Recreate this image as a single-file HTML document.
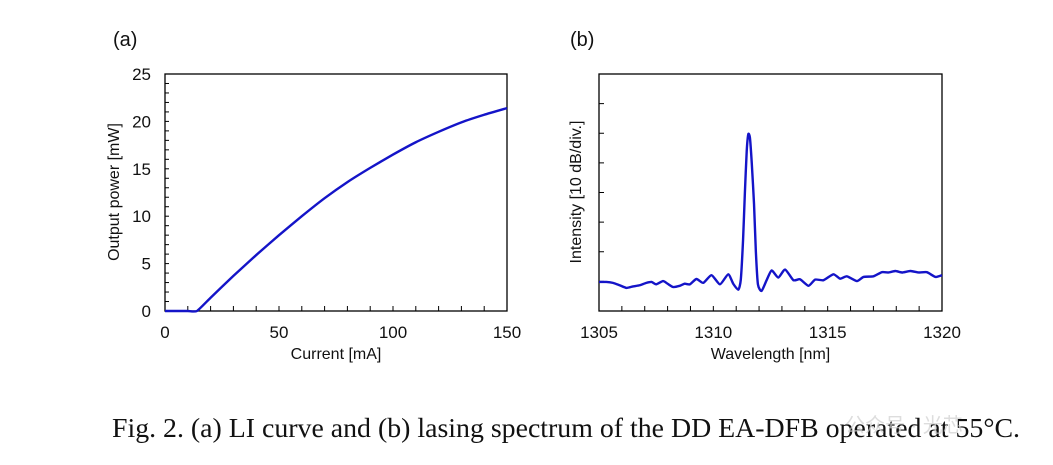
<!DOCTYPE html>
<html><head><meta charset="utf-8"><style>
html,body{margin:0;padding:0;background:#fff;width:1053px;height:465px;overflow:hidden}
svg text{font-family:"Liberation Sans",Arial,sans-serif;fill:#111}
</style></head><body>
<svg id="fig" width="1053" height="465" xmlns="http://www.w3.org/2000/svg">
<g id="pa"></g>
<g id="pb"></g>
<text x="112" y="437" font-size="27" textLength="908" lengthAdjust="spacingAndGlyphs" style="font-family:'Liberation Serif','Times New Roman',serif">Fig. 2. (a) LI curve and (b) lasing spectrum of the DD EA-DFB operated at 55°C.</text>
<text x="845" y="432" font-size="20" style="fill:#d0d0d0;font-family:'Liberation Sans','Noto Sans CJK SC',sans-serif" opacity="0.7">公众号 · 光芯</text>
</svg>
<script>
const liCurrent=[0,5,10,14,20,30,40,50,60,70,80,90,100,110,120,130,140,150];
const liPower=[0,0,0,0,1.4,3.7,5.9,8.0,10.0,11.9,13.6,15.1,16.5,17.8,18.9,19.9,20.7,21.4];
const liXTicks=[0,50,100,150];
const liYTicks=[0,5,10,15,20,25];
const spWave=[1305,1305.32,1305.61,1305.9,1306.2,1306.49,1306.78,1307.07,1307.3,1307.5,1307.8,1308.0,1308.24,1308.53,1308.75,1308.97,1309.26,1309.56,1309.92,1310.29,1310.65,1310.87,1311.09,1311.2,1311.3,1311.38,1311.46,1311.53,1311.6,1311.68,1311.78,1311.86,1311.95,1312.11,1312.33,1312.55,1312.84,1313.14,1313.5,1313.79,1314.16,1314.45,1314.82,1315.25,1315.55,1315.84,1316.28,1316.57,1317.0,1317.37,1317.66,1317.96,1318.25,1318.62,1318.98,1319.34,1319.71,1320];
const spInt=[9.8,9.8,9.5,8.7,7.8,8.3,8.7,9.5,9.8,9.0,10.1,9.2,8.1,8.5,9.2,9.0,10.8,9.5,12.1,9.0,12.4,9.2,7.2,10.5,24,40,54,59.7,58.5,50,36,20,9,6.8,10.4,13.7,11.3,14.0,10.4,10.7,8.5,10.6,10.4,12.4,10.9,11.7,10.1,11.5,11.7,13.1,13.0,13.5,13.0,13.5,13.0,13.1,11.5,12.1];
const spXTicks=[1305,1310,1315,1320];

const NS="http://www.w3.org/2000/svg";
function mk(p,t,a,txt){const e=document.createElementNS(NS,t);for(const k in a)e.setAttribute(k,a[k]);if(txt!==undefined)e.textContent=txt;p.appendChild(e);return e;}
function smooth(pts,t){t=t||6;let d="M"+pts[0][0]+","+pts[0][1];for(let i=0;i<pts.length-1;i++){const p0=pts[Math.max(0,i-1)],p1=pts[i],p2=pts[i+1],p3=pts[Math.min(pts.length-1,i+2)];const c1=[p1[0]+(p2[0]-p0[0])/t,p1[1]+(p2[1]-p0[1])/t],c2=[p2[0]-(p3[0]-p1[0])/t,p2[1]-(p3[1]-p1[1])/t];d+=" C"+c1[0]+","+c1[1]+" "+c2[0]+","+c2[1]+" "+p2[0]+","+p2[1];}return d;}

// Panel a
const A=document.getElementById('pa');
const aL=165,aR=507,aT=74,aB=311;
const ax=v=>aL+(v-0)/150*(aR-aL), ay=v=>aB-(v/25)*(aB-aT);
let e=mk(A,'rect',{x:aL,y:aT,width:aR-aL,height:aB-aT,fill:'none',stroke:'#000','stroke-width':1.3});

for(let v=10;v<150;v+=10){e=mk(A,'line',{x1:ax(v),x2:ax(v),y1:aB,y2:aB-5,stroke:'#000'});}
for(let v=1;v<25;v++){e=mk(A,'line',{x1:aL,x2:aL+4,y1:ay(v),y2:ay(v),stroke:'#000'});}
liXTicks.forEach(v=>{e=mk(A,'text',{x:ax(v),y:aB+27,'font-size':17,'text-anchor':'middle'},String(v));});
liYTicks.forEach(v=>{e=mk(A,'text',{x:aL-14,y:ay(v)+6,'font-size':17,'text-anchor':'end'},String(v));});
e=mk(A,'text',{x:(aL+aR)/2,y:359,'font-size':16,'text-anchor':'middle'},'Current  [mA]');
e=mk(A,'text',{x:0,y:0,'font-size':16,'text-anchor':'middle',transform:'translate(119,192) rotate(-90)'},'Output  power [mW]');
e=mk(A,'text',{x:113,y:46,'font-size':20},'(a)');
e=mk(A,'path',{d:smooth(liCurrent.map((c,i)=>[ax(c),ay(liPower[i])]),12),fill:'none',stroke:'#1414c8','stroke-width':2.4});


// Panel b
const B=document.getElementById('pb');
const bL=599,bR=942,bT=74,bB=311;
const bx=v=>bL+(v-1305)/15*(bR-bL), by=v=>bB-(v/80)*(bB-bT);
e=mk(B,'rect',{x:bL,y:bT,width:bR-bL,height:bB-bT,fill:'none',stroke:'#000','stroke-width':1.3});

for(let v=1306;v<1320;v++){e=mk(B,'line',{x1:bx(v),x2:bx(v),y1:bB,y2:bB-5,stroke:'#000'});}
for(let v=10;v<80;v+=10){e=mk(B,'line',{x1:bL,x2:bL+5,y1:by(v),y2:by(v),stroke:'#000'});}
spXTicks.forEach(v=>{e=mk(B,'text',{x:bx(v),y:bB+27,'font-size':17,'text-anchor':'middle'},String(v));});
e=mk(B,'text',{x:(bL+bR)/2,y:359,'font-size':16,'text-anchor':'middle'},'Wavelength  [nm]');
e=mk(B,'text',{x:0,y:0,'font-size':16,'text-anchor':'middle',transform:'translate(581,192) rotate(-90)'},'Intensity  [10 dB/div.]');
e=mk(B,'text',{x:570,y:46,'font-size':20},'(b)');
e=mk(B,'path',{d:smooth(spWave.map((w,i)=>[bx(w),by(spInt[i])]),10),fill:'none',stroke:'#1414c8','stroke-width':2.4});

</script>
</body></html>
